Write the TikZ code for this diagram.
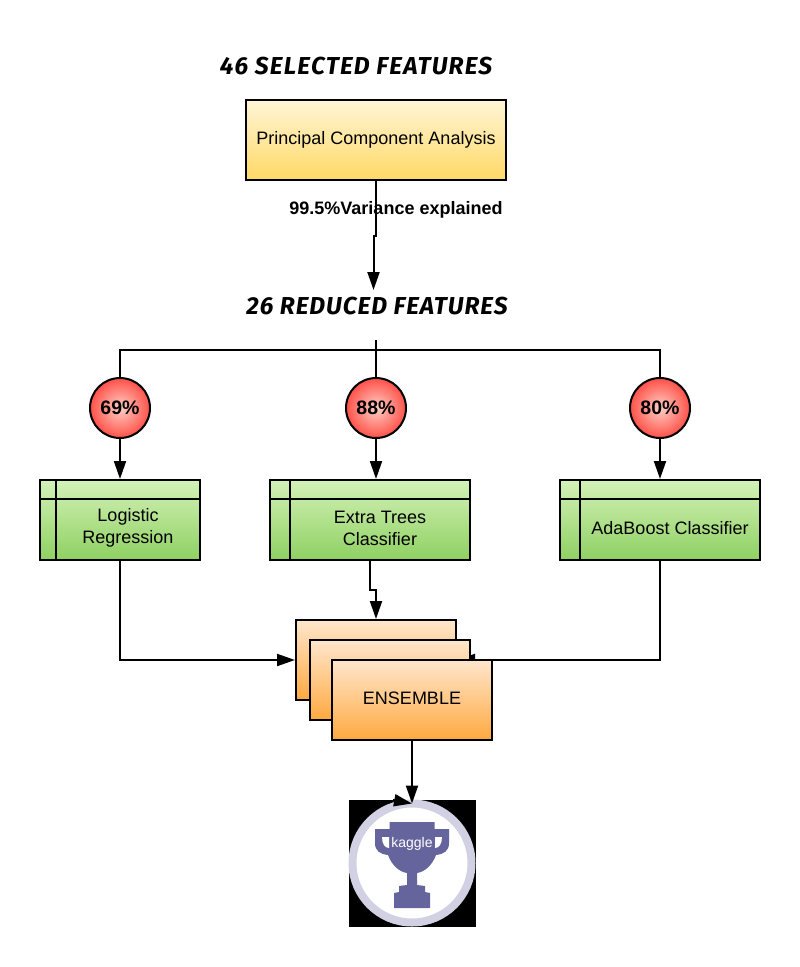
\documentclass[tikz,border=0pt]{standalone}
\usepackage{fontspec}
\setmainfont{Liberation Sans}
\newfontfamily\titlefont[LetterSpace=5]{Fira Sans}
\newfontfamily\titlefontb[LetterSpace=4]{Fira Sans}
\usetikzlibrary{arrows.meta,positioning}

\definecolor{pcatop}{HTML}{FFF5D6}
\definecolor{pcabot}{HTML}{FFD966}
\definecolor{greentop}{HTML}{D3F2B8}
\definecolor{greenbot}{HTML}{8FD062}
\definecolor{enstop}{HTML}{FFE6CC}
\definecolor{ensbot}{HTML}{FFA940}
\definecolor{redin}{HTML}{FFCFC6}
\definecolor{redout}{HTML}{FF5148}
\definecolor{ringcol}{HTML}{D2D1E3}
\definecolor{cupcol}{HTML}{65649C}

\begin{document}
\begin{tikzpicture}[x=1pt,y=1pt,on grid,line width=2pt,
        >={Triangle[length=18pt,width=12pt]}]
	\tikzstyle{rect}=[draw, rectangle, outer sep=0pt, text depth=4pt, font=\fontsize{18}{22}\selectfont]
	\tikzstyle{rect_pca}=[rect, minimum width=260pt, minimum height=80pt, top color=pcatop, bottom color=pcabot]
	\tikzstyle{rect_g}=[rect, minimum height=80pt, top color=greentop, bottom color=greenbot]
	\tikzstyle{rect_e}=[rect, minimum width=160pt, minimum height=80pt, top color=enstop, bottom color=ensbot]
	\tikzstyle{acc}=[draw, circle, minimum size=60pt, inner sep=0pt, outer sep=0pt, inner color=redin, outer color=redout, font=\fontsize{19.5}{24}\selectfont\bfseries]
	\tikzstyle{heading}=[font=\titlefont\fontsize{24.5}{28}\selectfont\bfseries\itshape]
	\tikzstyle{heading_b}=[font=\titlefontb\fontsize{24.5}{28}\selectfont\bfseries\itshape]
	\tikzstyle{txt}=[align=center, font=\fontsize{18}{22}\selectfont]
	\tikzstyle{arr}=[->, shorten >=1pt]

	\useasboundingbox (0,0) rectangle (800,-967);

	\node[rect_pca] (pca) at (376,-140) {Principal Component Analysis};
	\node[heading] (selected) [above=74pt of pca, xshift=-20pt] {46 SELECTED FEATURES};
	\node[font=\fontsize{18}{22}\selectfont\bfseries] (variance) [below=69.5pt of pca, xshift=20pt] {99.5\%Variance explained};
	\node[heading_b] (reduced) [below=166pt of pca, xshift=1pt] {26 REDUCED FEATURES};

	\coordinate (pcaend) at (373.5,-290);
	\coordinate (busin) at (376,-340);
	\coordinate (bus) at (376,-350);

	\draw[arr, shorten >=0pt] (pca.south) -- ++(0,-56) -| (pcaend);

	\node[acc] (acc88) at (376,-408) {88\%};
	\node[acc] (acc69) [left=256pt of acc88] {69\%};
	\node[acc] (acc80) [right=284pt of acc88] {80\%};

	\draw (busin) -- (acc88);
	\draw (acc69) |- (bus) -| (acc80);

	\node[rect_g, minimum width=160pt] (lr) [below=112pt of acc69] {};
	\node[rect_g, minimum width=200pt] (et) [below=112pt of acc88, xshift=-6pt] {};
	\node[rect_g, minimum width=200pt] (ada) [below=112pt of acc80] {};

	\foreach \name/\off in {lr/16,et/20,ada/20} {
		\draw ([xshift=\off pt]\name.north west) -- ([xshift=\off pt]\name.south west);
		\draw ([yshift=-19pt]\name.north west) -- ([yshift=-19pt]\name.north east);
	}

	\node[txt] (lrtxt) at ([xshift=8pt,yshift=-7.5pt]lr.center) {Logistic\\Regression};
	\node[txt] (ettxt) at ([xshift=10pt,yshift=-8pt]et.center) {Extra Trees\\Classifier};
	\node[txt] (adatxt) at ([xshift=10pt,yshift=-8pt]ada.center) {AdaBoost Classifier};

	\draw[arr] (acc69) -- (lr);
	\draw[arr] (acc88) -- (acc88 |- et.north);
	\draw[arr] (acc80) -- (ada);

	\node[rect_e] (ens1) [below=140pt of et, xshift=6pt] {};

	\draw[arr] (lr.south) |- (ens1.west);
	\draw[arr] (ada.south) |- (ens1.east);
	\draw[arr] (et.south) -- ++(0,-30) -| (ens1.north);

	\node[rect_e] (ens1) at (376,-660) {};
	\node[rect_e] (ens2) [below=20pt of ens1, xshift=14pt] {};
	\node[rect_e] (ens3) [below=20pt of ens2, xshift=22pt] {ENSEMBLE};

	\node[fill=black, minimum size=127pt, inner sep=0pt, outer sep=0pt] (kaggle) at (412,-863) {};
	\node[draw=ringcol, line width=8pt, fill=white, circle, minimum size=119pt, inner sep=0pt, outer sep=0pt] (ring) at (kaggle) {};
	\coordinate (ringin) at (393,-800);

	\begin{scope}[shift={(412,-863)}]
		\fill[cupcol] (-22.5,41) -- (22.5,41) -- (22.5,34) -- (37,34) -- (37,20)
			.. controls (37,12) and (32,9) .. (24,8)
			.. controls (20,-3) and (12,-9) .. (5,-10)
			-- (5,-22) -- (13,-23) -- (13,-29) -- (18,-30) -- (18,-45) -- (-18,-45) -- (-18,-30) -- (-13,-29) -- (-13,-23) -- (-5,-22) -- (-5,-10)
			.. controls (-12,-9) and (-20,-3) .. (-24,8)
			.. controls (-32,9) and (-37,12) .. (-37,20) -- (-37,34) -- (-22.5,34) -- cycle;
		\fill[white] (-30,26) -- (-23,26) -- (-23,15) .. controls (-27,15) and (-30,19) .. (-30,26) -- cycle;
		\fill[white] (30,26) -- (23,26) -- (23,15) .. controls (27,15) and (30,19) .. (30,26) -- cycle;
		\node[text=white, font=\fontsize{14}{16}\selectfont] (kaggletxt) at (0,19) {kaggle};
	\end{scope}

	\draw[arr, shorten >=0pt] (ens3) -- (ring.north);
	\draw[arr, shorten >=0pt] (ringin) -- (ring.north);
\end{tikzpicture}
\end{document}
